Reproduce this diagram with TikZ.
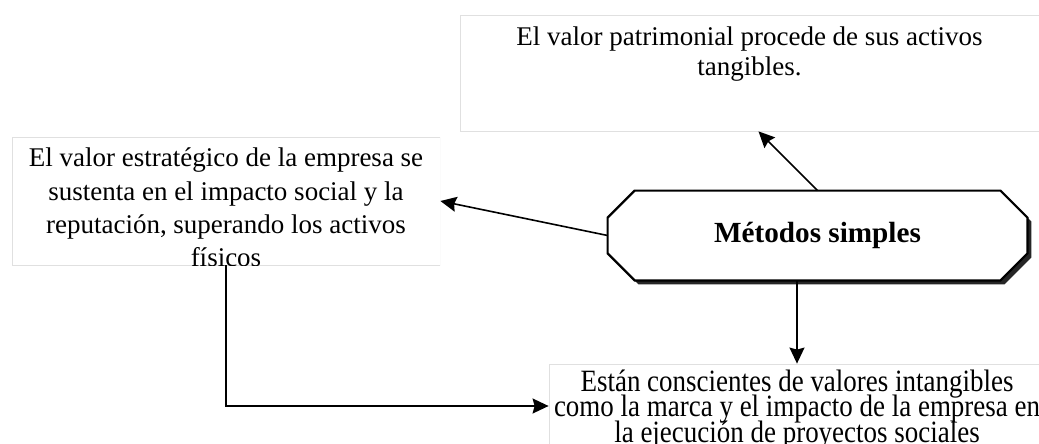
\documentclass[tikz,border=0pt]{standalone}
\usepackage{fontspec}
\setmainfont{Liberation Serif}
\newfontfamily\estrecha[FakeStretch=0.87]{Liberation Serif}
\usetikzlibrary{arrows.meta,positioning,shadows,backgrounds}
\tikzset{
    %Define standard arrow tip
    >={Stealth[length=8pt,width=7.5pt,inset=1pt]},
    %Define style for text boxes
    cuadro/.style={
           rectangle,
           draw=black!12,
           line width=0.4pt,
           fill=white,
           inner sep=0pt,
           font=\fontsize{13.5}{16}\selectfont},
    %Define style for the main box
    principal/.style={
           rectangle,
           inner sep=0pt,
           minimum width=209.5pt,
           minimum height=44.5pt,
           font=\fontsize{14.6}{17}\selectfont\bfseries},
    octagono/.style={
           draw=black, line width=1.1pt,
           fill=white,
           drop shadow={shadow xshift=2pt, shadow yshift=-2pt,
                        fill=black!85, opacity=1}},
    % Define arrow style
    flecha/.style={
           ->,
           line width=0.8pt}
}
% text box: [first baseline]{height}{width}{leading}{text}
\newcommand{\caja}[5][15pt]{\parbox[c][#2][t]{#3}{\centering\baselineskip=#4\lineskiplimit=-10pt\relax\rule{0pt}{#1}#5}}
\begin{document}
\begin{tikzpicture}[x=0.5pt,y=-0.5pt]
\useasboundingbox (0,0) rectangle (1039,444);

 %boxes
\node[cuadro](patrimonio) at (749.5,73)
  {\caja{58pt}{289.5pt}{15.5pt}{El valor patrimonial procede de sus activos\\ tangibles.}};
\begin{scope}
\clip (12,137) rectangle (440,265);
\node[cuadro](estrategico) at (226,201)
  {\caja{64pt}{214pt}{16.6pt}{El valor estratégico de la empresa se\\ sustenta en el impacto social y la\\
   reputación, superando los activos\\ físicos}};
\end{scope}
\node[cuadro, font=\estrecha\fontsize{15.5}{12.8}\selectfont](intangibles) at (797,406)
  {\caja[13.5pt]{42pt}{248pt}{12.8pt}{Están conscientes de valores intangibles\\ como la marca y el impacto de la empresa en\\
   la ejecución de proyectos sociales}};
\node[principal](metodos) at (817.5,235.5) {Métodos simples};
\begin{scope}[on background layer]
\draw[octagono] ([xshift=13.5pt]metodos.north west) -- ([xshift=-13.5pt]metodos.north east)
  -- ([yshift=-13.5pt]metodos.north east) -- ([yshift=13.5pt]metodos.south east)
  -- ([xshift=-13.5pt]metodos.south east) -- ([xshift=13.5pt]metodos.south west)
  -- ([yshift=13.5pt]metodos.south west) -- ([yshift=-13.5pt]metodos.north west) -- cycle;
\end{scope}

 %arrows
\draw[flecha] (metodos.north) -- ([xshift=4.5pt]patrimonio.south);
\draw[flecha] (metodos.west) -- (estrategico.east);
\draw[flecha] (metodos.south -| intangibles.north) -- (intangibles.north);
\draw[flecha] (estrategico.south) |- (intangibles.west);
\end{tikzpicture}
\end{document}
